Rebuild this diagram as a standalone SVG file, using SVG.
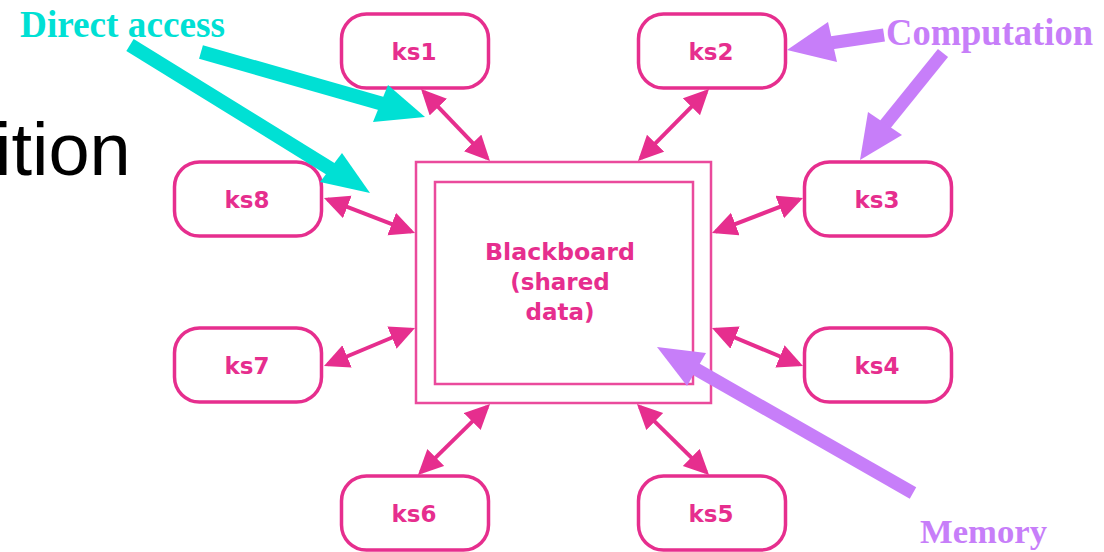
<svg xmlns="http://www.w3.org/2000/svg" width="1104" height="552" viewBox="0 0 1104 552">
  <style>
    .ks rect { fill: #ffffff; stroke: #e62e8e; stroke-width: 3.5; }
    .lbl { font-family: "DejaVu Sans", Verdana, sans-serif; font-weight: bold; font-size: 23px; fill: #e62e8e; text-anchor: middle; }
    .bb { fill: none; stroke: #ea4a9c; stroke-width: 2.5; }
    .link { stroke: #e62e8e; stroke-width: 4; fill: none; marker-start: url(#head); marker-end: url(#head); }
    .note { font-family: "Liberation Serif", "Times New Roman", serif; font-weight: bold; }
    .cyan { fill: #00e0d4; }
    .cyan-s { stroke: #00e0d4; stroke-width: 14; fill: none; }
    .violet { fill: #c77ef9; }
    .violet-s { stroke: #c77ef9; stroke-width: 13; fill: none; }
  </style>
  <defs>
    <marker id="head" markerUnits="userSpaceOnUse" markerWidth="28" markerHeight="26" refX="21" refY="12" orient="auto-start-reverse">
      <path d="M0,0 L25,12 L0,24 z" fill="#e62e8e"/>
    </marker>
  </defs>

  <rect width="1104" height="552" fill="#ffffff"/>

  <!-- partially visible slide title -->
  <text x="-5" y="175" font-family="Liberation Sans, Arial, sans-serif" font-size="74" fill="#000000">ition</text>

  <!-- shared data store -->
  <g id="blackboard">
    <rect class="bb" x="416" y="162" width="295" height="241"/>
    <rect class="bb" x="435" y="182" width="258" height="202"/>
    <text class="lbl" x="560" y="260" textLength="150" lengthAdjust="spacingAndGlyphs">Blackboard</text>
    <text class="lbl" x="560" y="290">(shared</text>
    <text class="lbl" x="560" y="320">data)</text>
  </g>

  <!-- knowledge sources -->
  <g id="ks1" class="ks"><rect x="341.5" y="14" width="147" height="74" rx="25"/><text class="lbl" x="414" y="60">ks1</text></g>
  <g id="ks2" class="ks"><rect x="638.5" y="14" width="147" height="74" rx="25"/><text class="lbl" x="711" y="60">ks2</text></g>
  <g id="ks8" class="ks"><rect x="174.5" y="162" width="147" height="74" rx="25"/><text class="lbl" x="247" y="208">ks8</text></g>
  <g id="ks3" class="ks"><rect x="804.5" y="162" width="147" height="74" rx="25"/><text class="lbl" x="877" y="208">ks3</text></g>
  <g id="ks7" class="ks"><rect x="174.5" y="328" width="147" height="74" rx="25"/><text class="lbl" x="247" y="374">ks7</text></g>
  <g id="ks4" class="ks"><rect x="804.5" y="328" width="147" height="74" rx="25"/><text class="lbl" x="877" y="374">ks4</text></g>
  <g id="ks6" class="ks"><rect x="341.5" y="476" width="147" height="74" rx="25"/><text class="lbl" x="414" y="522">ks6</text></g>
  <g id="ks5" class="ks"><rect x="638.5" y="476" width="147" height="74" rx="25"/><text class="lbl" x="711" y="522">ks5</text></g>

  <!-- two-way links between each source and the blackboard -->
  <g id="connectors">
    <line class="link" x1="423.8" y1="91.9" x2="487.2" y2="158.1"/>
    <line class="link" x1="706.2" y1="91.8" x2="640.8" y2="158.2"/>
    <line class="link" x1="327.7" y1="199.4" x2="411.3" y2="231.6"/>
    <line class="link" x1="799.3" y1="199.4" x2="715.7" y2="231.6"/>
    <line class="link" x1="327.7" y1="364.5" x2="411.3" y2="329.5"/>
    <line class="link" x1="799.3" y1="364.5" x2="715.7" y2="329.5"/>
    <line class="link" x1="487.2" y1="406.8" x2="420.8" y2="472.2"/>
    <line class="link" x1="639.8" y1="406.8" x2="706.2" y2="472.2"/>
  </g>

  <!-- annotation: direct access -->
  <g id="direct-access">
    <text class="note cyan" x="20" y="37" font-size="37" textLength="205" lengthAdjust="spacingAndGlyphs">Direct access</text>
    <line class="cyan-s" x1="201" y1="52" x2="383" y2="104"/>
    <polygon class="cyan" points="388,85 373,122 425,117"/>
    <line class="cyan-s" x1="130" y1="45" x2="334" y2="171"/>
    <polygon class="cyan" points="342,153 320,182 370,193"/>
  </g>

  <!-- annotation: computation -->
  <g id="computation">
    <text class="note violet" x="886" y="45" font-size="38" textLength="207" lengthAdjust="spacingAndGlyphs">Computation</text>
    <line class="violet-s" x1="884" y1="35" x2="830" y2="43"/>
    <polygon class="violet" points="828,22 837,62 787,50"/>
    <line class="violet-s" x1="943" y1="53" x2="884" y2="126"/>
    <polygon class="violet" points="868,112 902,135 860,160"/>
  </g>

  <!-- annotation: memory -->
  <g id="memory">
    <text class="note violet" x="920" y="543" font-size="33" textLength="127" lengthAdjust="spacingAndGlyphs">Memory</text>
    <line class="violet-s" x1="913" y1="493" x2="694" y2="368"/>
    <polygon class="violet" points="706,353 687,386 657,347"/>
  </g>
</svg>
